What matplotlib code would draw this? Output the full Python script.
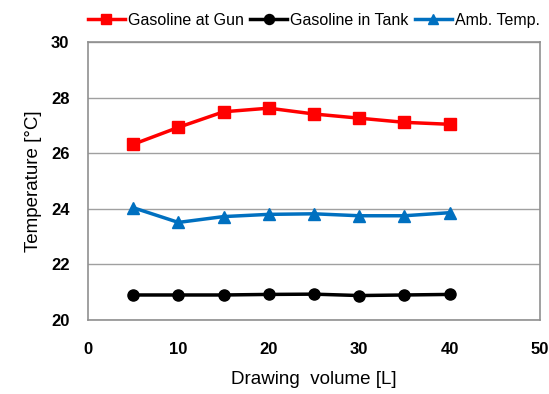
import matplotlib
matplotlib.use("Agg")
import matplotlib.pyplot as plt

volume = [5, 10, 15, 20, 25, 30, 35, 40]
gun = [26.32, 26.93, 27.49, 27.62, 27.41, 27.26, 27.11, 27.04]
tank = [20.9, 20.9, 20.9, 20.92, 20.93, 20.88, 20.9, 20.92]
amb = [24.04, 23.51, 23.72, 23.80, 23.82, 23.75, 23.75, 23.86]
xticks = [0, 10, 20, 30, 40, 50]
yticks = [20, 22, 24, 26, 28, 30]

plt.rcParams['font.family'] = ['Liberation Sans', 'DejaVu Sans']
fig = plt.figure(figsize=(5.49, 3.94), dpi=100)
ax = fig.add_axes([88/549, 1-320/394, (540-88)/549, (320-42)/394])

ax.plot(volume, gun, color='#ff0000', marker='s', markersize=8, lw=2.5, label='Gasoline at Gun')
ax.plot(volume, tank, color='#000000', marker='o', markersize=8, lw=2.5, label='Gasoline in Tank')
ax.plot(volume, amb, color='#0070c0', marker='^', markersize=8, lw=2.5, label='Amb. Temp.')

ax.set_xlim(0, 50)
ax.set_ylim(20, 30)
ax.set_xticks(xticks)
ax.set_yticks(yticks)
ax.tick_params(axis='x', length=0, labelsize=12, pad=16)
ax.tick_params(axis='y', length=0, labelsize=12, pad=20)
for lab in ax.get_xticklabels() + ax.get_yticklabels():
    lab.set_fontweight('bold')
    lab.set_horizontalalignment('center')
ax.grid(axis='y', color='#a0a0a0', lw=1)
ax.set_axisbelow(True)
for s in ax.spines.values():
    s.set_color('#909090')
    s.set_linewidth(1.2)

ax.set_xlabel('Drawing  volume [L]', fontsize=13.5, labelpad=10)
ax.set_ylabel('Temperature [°C]', fontsize=13.5, labelpad=0)
ax.yaxis.set_label_coords(-46/452, 0.5)

ax.legend(loc='lower center', bbox_to_anchor=(0.5, 1.0), ncol=3, frameon=False,
          fontsize=11.5, handlelength=2.3, handletextpad=0.2, columnspacing=0.4,
          borderaxespad=0.5, markerscale=0.9)

fig.savefig('out.png', dpi=100)
